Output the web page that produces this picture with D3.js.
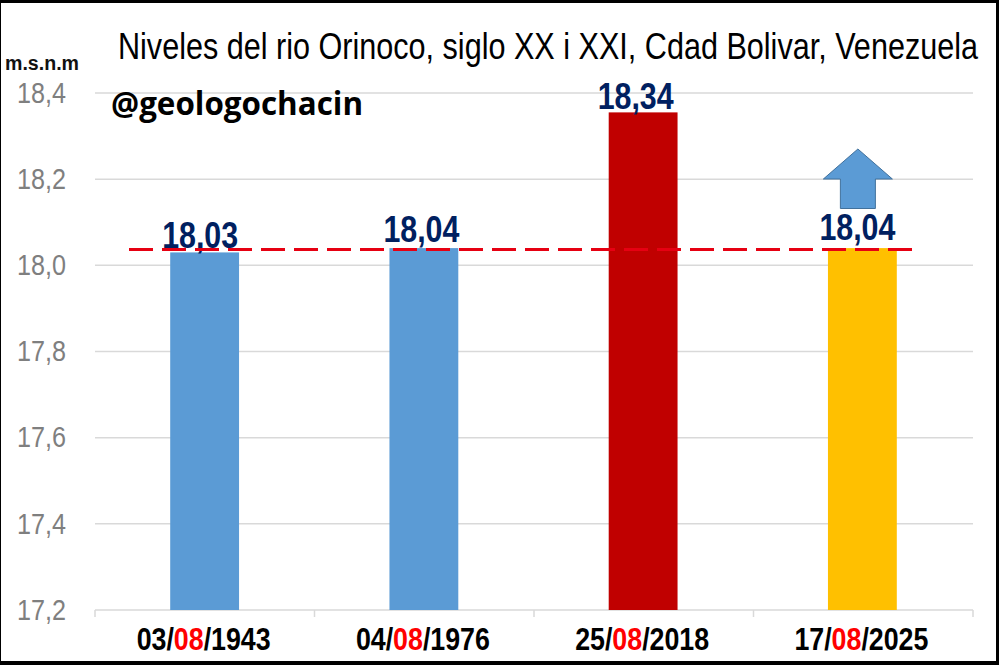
<!DOCTYPE html>
<html>
<head>
<meta charset="utf-8">
<script src="https://cdn.jsdelivr.net/npm/d3@7"></script>
<style>
html, body { margin: 0; padding: 0; background: #fff; }
svg { display: block; }
</style>
</head>
<body>
<svg id="chart" width="1002" height="670"></svg>
<script>
const dates = [["03", "08", "1943"], ["04", "08", "1976"], ["25", "08", "2018"], ["17", "08", "2025"]];
const levels = [18.03, 18.04, 18.355, 18.04];
const levelLabels = ["18,03", "18,04", "18,34", "18,04"];
const barColors = ["#5b9bd5", "#5b9bd5", "#c00000", "#ffc000"];
const ticks = [17.2, 17.4, 17.6, 17.8, 18.0, 18.2, 18.4];
const refLevel = 18.037;
// labels were placed by hand in the original, they do not sit centred on the bars
const labelDx = [-4.5, -2.5, -7.5, -5];
const labelDy = [-4, -6, -3, -8];

const svg = d3.select("#chart");
const sans = "'Liberation Sans', Arial, sans-serif";

svg.append("rect").attr("width", 999).attr("height", 665).attr("fill", "#000");
svg.append("rect").attr("x", 1).attr("y", 3).attr("width", 995).attr("height", 658).attr("fill", "#fff");

const x = d3.scaleBand().domain(d3.range(dates.length)).range([95, 972]).paddingInner(0.686).paddingOuter(0.343);
const y = d3.scaleLinear().domain([17.2, 18.4]).range([610, 93]);

// grid
svg.selectAll(".grid").data(ticks.slice(1)).join("line")
    .attr("class", "grid")
    .attr("x1", 95).attr("x2", 973)
    .attr("y1", d => y(d)).attr("y2", d => y(d))
    .attr("stroke", "#d9d9d9").attr("stroke-width", 1.5);

const yAxis = svg.append("g").attr("transform", "translate(69,0)")
    .call(d3.axisLeft(y).tickValues(ticks).tickSize(0).tickFormat(d => d3.format(".1f")(d).replace(".", ",")));
yAxis.select(".domain").remove();
yAxis.selectAll("text")
    .attr("font-family", sans).attr("font-size", 29).attr("fill", "#7f7f7f").attr("x", -3)
    .attr("textLength", 49).attr("lengthAdjust", "spacingAndGlyphs");

// baseline with group ticks
const xLine = d3.scaleLinear().domain([0, 4]).range([95, 973]);
svg.append("line").attr("x1", 95).attr("x2", 973).attr("y1", y(17.2)).attr("y2", y(17.2))
    .attr("stroke", "#d9d9d9").attr("stroke-width", 1.5);
svg.selectAll(".tick-x").data(d3.range(5)).join("line")
    .attr("class", "tick-x")
    .attr("x1", d => xLine(d)).attr("x2", d => xLine(d))
    .attr("y1", y(17.2)).attr("y2", y(17.2) + 7)
    .attr("stroke", "#d9d9d9").attr("stroke-width", 1.5);

// bars
svg.selectAll(".bar").data(levels).join("rect")
    .attr("class", "bar")
    .attr("x", (d, i) => x(i))
    .attr("y", d => y(d))
    .attr("width", x.bandwidth())
    .attr("height", d => y(17.2) - y(d))
    .attr("fill", (d, i) => barColors[i]);

// value labels
svg.selectAll(".val").data(levels).join("text")
    .attr("class", "val")
    .attr("x", (d, i) => x(i) + x.bandwidth() / 2 + labelDx[i])
    .attr("y", (d, i) => y(d) + labelDy[i])
    .attr("text-anchor", "middle")
    .attr("font-family", sans)
    .attr("font-size", 36)
    .attr("font-weight", "bold")
    .attr("fill", "#002060")
    .attr("textLength", 76)
    .attr("lengthAdjust", "spacingAndGlyphs")
    .text((d, i) => levelLabels[i]);

// dashed reference
svg.append("line")
    .attr("x1", 129).attr("x2", 912)
    .attr("y1", y(refLevel)).attr("y2", y(refLevel))
    .attr("stroke", "#e60012").attr("stroke-width", 3)
    .attr("stroke-dasharray", "24 9");

// arrow over last bar
const ax = x(3) + x.bandwidth() / 2 - 4.5;
svg.append("path")
    .attr("d", d3.line()([[ax, 149], [ax + 34.5, 179], [ax + 17.5, 179], [ax + 17.5, 208.5], [ax - 17.5, 208.5], [ax - 17.5, 179], [ax - 34.5, 179]]) + "Z")
    .attr("fill", "#5b9bd5").attr("stroke", "#41719c").attr("stroke-width", 1);

// date labels, month in red
const dateText = svg.selectAll(".date").data(dates).join("text")
    .attr("class", "date")
    .attr("x", (d, i) => x(i) + x.bandwidth() / 2 - 1)
    .attr("y", 650)
    .attr("text-anchor", "middle")
    .attr("font-family", sans)
    .attr("font-size", 32)
    .attr("font-weight", "bold")
    .attr("textLength", 134)
    .attr("lengthAdjust", "spacingAndGlyphs");
dateText.append("tspan").text(d => d[0] + "/");
dateText.append("tspan").attr("fill", "#ff0000").text(d => d[1]);
dateText.append("tspan").text(d => "/" + d[2]);

svg.append("text")
    .attr("x", 118).attr("y", 59)
    .attr("font-family", sans).attr("font-size", 36).attr("fill", "#000")
    .attr("textLength", 860).attr("lengthAdjust", "spacingAndGlyphs")
    .text("Niveles del rio Orinoco, siglo XX i XXI, Cdad Bolivar, Venezuela");

svg.append("text")
    .attr("x", 5).attr("y", 70)
    .attr("font-family", sans).attr("font-size", 20).attr("font-weight", "bold").attr("fill", "#111")
    .attr("textLength", 74).attr("lengthAdjust", "spacingAndGlyphs")
    .text("m.s.n.m");

svg.append("text")
    .attr("x", 111).attr("y", 115)
    .attr("font-family", "'Open Sans', sans-serif").attr("font-size", 32).attr("font-weight", "bold").attr("fill", "#000")
    .attr("textLength", 252).attr("lengthAdjust", "spacingAndGlyphs")
    .text("@geologochacin");
</script>
</body>
</html>
